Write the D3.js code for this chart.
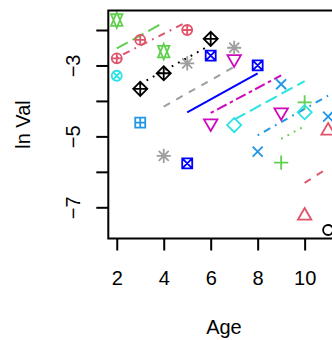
<!DOCTYPE html>
<html>
<head>
<meta charset="utf-8">
<script src="https://cdn.jsdelivr.net/npm/d3@7"></script>
<style>
  html, body { margin: 0; padding: 0; background: #fff; }
  svg { display: block; }
  text { font-family: "Liberation Sans", Arial, sans-serif; }
</style>
</head>
<body>
<svg id="chart" width="332" height="340"></svg>
<script>
// ---- data ----
const pchCodes = [1, 2, 3, 4, 5, 6, 7, 8, 9, 10, 11, 12, 13];
const colors = ["#000000", "#DF536B", "#61D04F", "#2297E6", "#28E2E5", "#CD0BBC",
                "#0000FF", "#9E9E9E", "#000000", "#DF536B", "#61D04F", "#2297E6", "#28E2E5"];
const pointAges = [[11], [10, 11], [9, 10], [8, 9, 11], [7, 10], [6, 7, 9],
                   [5, 6, 8], [4, 5, 7], [3, 4, 6], [2, 3, 5], [2, 4], [3], [2]];
const pointVals = [[-7.64], [-7.24, -4.84], [-5.74, -4.04], [-5.43, -3.53, -4.44],
                   [-4.68, -4.32], [-4.63, -2.82, -4.32], [-5.76, -2.72, -3.00],
                   [-5.55, -2.94, -2.50], [-3.66, -3.22, -2.25], [-2.80, -2.28, -2.00],
                   [-1.72, -2.61], [-4.61], [-3.29]];
const fitAges = [null, [10, 11], [9, 10], [8, 11], [7, 10], [6, 9], [5, 8],
                 [4, 7], [3, 6], [2, 5], [2, 4], null, null];
const fitVals = [null, [-6.31, -5.89], [-5.07, -4.71], [-4.97, -3.85], [-4.53, -3.44],
                 [-4.34, -3.28], [-4.32, -3.22], [-4.16, -3.04], [-3.52, -2.42],
                 [-2.78, -1.77], [-2.52, -1.79], null, null];
const ltys = ["solid", "dashed", "dotted", "dotdash", "longdash", "twodash", "solid",
              "dashed", "dotted", "dotdash", "longdash", "twodash", "solid"];
const xTicks = [2, 4, 6, 8, 10, 12];
const xTickLabels = [2, 4, 6, 8, 10];
const yTicks = [-2, -3, -4, -5, -6, -7];
const yTickLabels = [-3, -5, -7];
const xTitle = "Age";
const yTitle = "ln Val";

// ---- layout ----
const box = { left: 108.3, right: 361, top: 10.5, bottom: 238.5 };
const x = d3.scaleLinear().domain([1.64, 12.4]).range([box.left, box.right]);
const y = d3.scaleLinear().domain([-7.88, -1.45]).range([box.bottom, box.top]);
const u = 1.8;
const dashes = {
  solid: null,
  dashed: [4 * u, 4 * u],
  dotted: [1 * u, 3 * u],
  dotdash: [1 * u, 3 * u, 4 * u, 3 * u],
  longdash: [7 * u, 3 * u],
  twodash: [2 * u, 2 * u, 6 * u, 2 * u]
};

const svg = d3.select("#chart");
svg.append("rect").attr("width", 332).attr("height", 340).attr("fill", "#fff");

const plot = svg.append("g");

// fitted segments
fitAges.forEach((ages, i) => {
  if (!ages) return;
  const pts = ages.map((a, j) => [a, fitVals[i][j]]);
  plot.append("path")
    .attr("d", d3.line().x(d => x(d[0])).y(d => y(d[1]))(pts))
    .attr("fill", "none")
    .attr("stroke", colors[i])
    .attr("stroke-width", 2)
    .attr("stroke-dasharray", dashes[ltys[i]] ? dashes[ltys[i]].join(",") : null);
});

// R-like plotting symbols
const R = 5;
const TRC0 = 1.5551203, TRC1 = 1.3467737, TRC2 = 0.7775602, S2 = Math.SQRT2;
function symbolPath(pch, cx, cy) {
  const p = d3.path();
  const circ = r => { p.moveTo(cx + r, cy); p.arc(cx, cy, r, 0, 2 * Math.PI); };
  const plus = h => { p.moveTo(cx - h, cy); p.lineTo(cx + h, cy); p.moveTo(cx, cy - h); p.lineTo(cx, cy + h); };
  const cross = h => { p.moveTo(cx - h, cy - h); p.lineTo(cx + h, cy + h); p.moveTo(cx - h, cy + h); p.lineTo(cx + h, cy - h); };
  const square = h => { p.rect(cx - h, cy - h, 2 * h, 2 * h); };
  const diamond = h => { p.moveTo(cx - h, cy); p.lineTo(cx, cy - h); p.lineTo(cx + h, cy); p.lineTo(cx, cy + h); p.closePath(); };
  const tri = (up) => {
    const r = TRC0 * R, xc = TRC1 * R, yc = TRC2 * R, s = up ? 1 : -1;
    p.moveTo(cx, cy - s * r); p.lineTo(cx + xc, cy + s * yc); p.lineTo(cx - xc, cy + s * yc); p.closePath();
  };
  switch (pch) {
    case 1: circ(R); break;
    case 2: tri(true); break;
    case 3: plus(S2 * R); break;
    case 4: cross(R); break;
    case 5: diamond(S2 * R); break;
    case 6: tri(false); break;
    case 7: square(R); cross(R); break;
    case 8: plus(S2 * R); cross(R); break;
    case 9: diamond(S2 * R); plus(S2 * R); break;
    case 10: circ(R); plus(R); break;
    case 11: {
      const r = TRC0 * R;
      const yc = 0.5 * (TRC2 * R + r);
      const xc = TRC1 * R * 0.85;
      p.moveTo(cx, cy - r); p.lineTo(cx + xc, cy + yc); p.lineTo(cx - xc, cy + yc); p.closePath();
      p.moveTo(cx, cy + r); p.lineTo(cx + xc, cy - yc); p.lineTo(cx - xc, cy - yc); p.closePath();
      break;
    }
    case 12: square(R); plus(R); break;
    case 13: circ(R); cross(R / S2); break;
  }
  return p.toString();
}

pointAges.forEach((ages, i) => {
  ages.forEach((a, j) => {
    plot.append("path")
      .attr("d", symbolPath(pchCodes[i], x(a), y(pointVals[i][j])))
      .attr("fill", "none")
      .attr("stroke", colors[i])
      .attr("stroke-width", 1.8);
  });
});

// axes
const fmt = d3.format("d");
const gx = svg.append("g").attr("transform", `translate(0,${box.bottom})`)
  .call(d3.axisBottom(x).tickValues(xTicks).tickSize(12)
    .tickFormat(d => xTickLabels.includes(d) ? fmt(d) : ""));
gx.select(".domain").remove();
gx.selectAll(".tick line").attr("stroke", "#000").attr("stroke-width", 2);
gx.selectAll(".tick text").attr("y", 46.5).attr("dy", 0)
  .attr("font-size", 20).attr("fill", "#000")
  .attr("font-family", "Liberation Sans, Arial, sans-serif");

const gy = svg.append("g").attr("transform", `translate(${box.left},0)`)
  .call(d3.axisLeft(y).tickValues(yTicks).tickSize(12)
    .tickFormat(d => yTickLabels.includes(d) ? fmt(d) : ""));
gy.select(".domain").remove();
gy.selectAll(".tick line").attr("stroke", "#000").attr("stroke-width", 2);
gy.selectAll(".tick text")
  .attr("x", null).attr("dy", 0).attr("y", 0)
  .attr("transform", "translate(-28.3,0) rotate(-90)")
  .attr("text-anchor", "middle")
  .attr("font-size", 20).attr("fill", "#000")
  .attr("font-family", "Liberation Sans, Arial, sans-serif");

// box
svg.append("rect")
  .attr("x", box.left).attr("y", box.top)
  .attr("width", box.right - box.left).attr("height", box.bottom - box.top)
  .attr("fill", "none").attr("stroke", "#000").attr("stroke-width", 2);

// titles
svg.append("text").attr("x", (box.left + box.right) / 2 - 10.7).attr("y", 334)
  .attr("text-anchor", "middle").attr("font-size", 20).text(xTitle);
svg.append("text").attr("transform", `translate(30,${(box.top + box.bottom) / 2}) rotate(-90)`)
  .attr("text-anchor", "middle").attr("font-size", 20).text(yTitle);
</script>
</body>
</html>
